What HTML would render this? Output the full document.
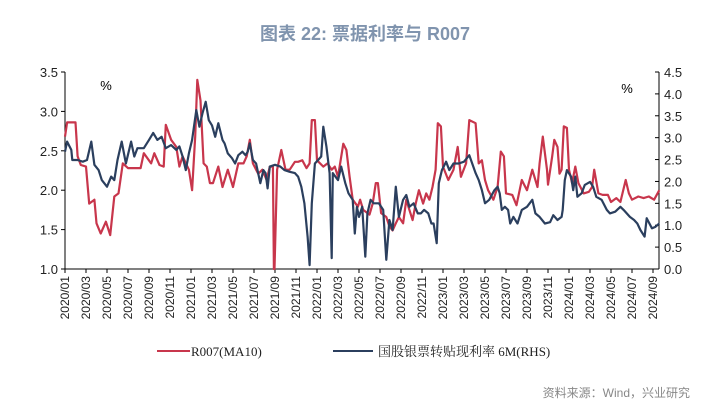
<!DOCTYPE html>
<html><head><meta charset="utf-8"><style>
body{margin:0;background:#fff;}
svg text{font-family:"Liberation Sans","Noto Sans CJK SC",sans-serif;}
svg text.serif{font-family:"Liberation Serif","Noto Serif CJK SC",serif;}
</style></head><body>
<svg width="723" height="412" viewBox="0 0 723 412" xmlns="http://www.w3.org/2000/svg">
<text x="365" y="40" text-anchor="middle" font-size="18" font-weight="bold" fill="#8094ae">图表 22: 票据利率与 R007</text>
<g id="axes"></g>
<g id="series"></g>
<text x="106" y="90" text-anchor="middle" font-size="13">%</text>
<text x="627" y="93" text-anchor="middle" font-size="13">%</text>
<line x1="157" y1="351" x2="190" y2="351" stroke="#c8364c" stroke-width="2"/>
<text class="serif" x="191" y="356" font-size="13" fill="#222">R007(MA10)</text>
<line x1="333" y1="351" x2="373" y2="351" stroke="#2b3f5e" stroke-width="2"/>
<text class="serif" x="378" y="356" font-size="13" fill="#222">国股银票转贴现利率 6M(RHS)</text>
<text x="690" y="397" text-anchor="end" font-size="12" fill="#888">资料来源：Wind，兴业研究</text>
</svg>
<script>
const xLabels=["2020/01","2020/03","2020/05","2020/07","2020/09","2020/11","2021/01","2021/03","2021/05","2021/07","2021/09","2021/11","2022/01","2022/03","2022/05","2022/07","2022/09","2022/11","2023/01","2023/03","2023/05","2023/07","2023/09","2023/11","2024/01","2024/03","2024/05","2024/07","2024/09"];
const leftTicks=[1.0,1.5,2.0,2.5,3.0,3.5];
const rightTicks=[0.0,0.5,1.0,1.5,2.0,2.5,3.0,3.5,4.0,4.5];
// month index since 2020/01
const r007T=[0,0.2,1.0,1.2,1.5,2.0,2.3,2.8,3.0,3.4,3.9,4.3,4.7,5.1,5.5,6.0,7.2,7.5,8.2,8.5,9.0,9.4,9.6,10.1,10.6,10.9,11.2,11.8,12.1,12.4,12.6,12.9,13.2,13.5,13.8,14.1,14.6,15.0,15.5,16.0,16.5,17.0,17.3,17.6,17.9,18.4,18.8,19.2,19.5,19.8,19.9,19.95,20.2,20.6,21.0,21.4,21.9,22.2,22.6,23.0,23.3,23.5,23.8,24.0,24.6,25.0,25.4,25.7,26.0,26.5,26.8,27.1,27.4,27.9,28.1,28.4,29.0,29.3,29.6,29.8,30.1,30.6,30.9,31.2,31.5,31.8,32.2,32.5,32.8,33.1,33.4,33.7,34.1,34.4,34.7,35.0,35.3,35.5,35.8,36.0,36.5,37.0,37.4,37.7,38.2,38.5,39.1,39.4,39.7,40.0,40.3,40.8,41.2,41.5,41.8,42.0,42.6,43.0,43.5,44.0,44.5,45.0,45.2,45.5,45.9,46.0,46.4,46.6,46.9,47.1,47.3,47.5,47.8,48.0,48.3,48.6,48.9,49.4,49.9,50.2,50.4,50.8,51.2,51.7,52.0,52.5,52.9,53.4,53.7,54.0,54.6,55.1,55.6,56.1,56.6];
const r007V=[2.68,2.86,2.86,2.43,2.32,2.30,1.83,1.88,1.58,1.45,1.60,1.43,1.92,1.96,2.34,2.28,2.28,2.47,2.34,2.47,2.32,2.30,2.83,2.64,2.55,2.30,2.43,2.26,2.00,2.68,3.40,3.14,2.34,2.30,2.09,2.09,2.30,2.04,2.26,2.04,2.34,2.34,2.43,2.64,2.34,2.21,2.26,2.13,2.30,2.30,1.0,1.0,2.26,2.51,2.26,2.26,2.36,2.36,2.38,2.28,2.34,2.89,2.89,2.38,2.30,2.34,2.26,2.30,2.17,2.59,2.51,2.17,1.88,1.79,1.88,1.75,1.69,1.83,2.09,2.09,1.71,1.66,1.54,1.49,1.58,1.66,1.58,1.88,1.75,1.62,1.83,2.00,1.83,1.96,1.88,2.04,2.26,2.85,2.81,2.30,2.13,2.26,2.55,2.17,2.34,2.89,2.85,2.34,2.38,2.13,2.00,1.88,2.04,2.49,2.43,1.96,1.94,1.81,2.13,2.00,2.26,2.04,2.34,2.68,2.26,2.07,2.43,2.64,2.55,2.21,2.26,2.81,2.79,2.26,2.09,2.30,2.09,1.96,1.98,2.04,2.26,1.96,1.94,1.94,1.85,1.90,1.85,2.13,1.96,1.88,1.92,1.90,1.92,1.88,2.00];
const billT=[0,0.2,0.6,0.7,1.2,1.7,2.1,2.5,2.8,3.2,3.5,4.0,4.4,4.7,5.0,5.4,5.8,6.3,6.6,6.9,7.5,8.0,8.4,8.8,9.2,9.6,10.1,10.6,10.9,11.2,11.5,11.8,12.1,12.5,12.8,13.1,13.4,13.7,14.0,14.3,14.6,15.0,15.2,15.5,15.9,16.2,16.5,16.9,17.2,17.4,17.6,17.9,18.2,18.6,18.9,19.1,19.3,19.5,20.0,20.5,20.9,21.4,21.9,22.2,22.5,22.8,23.1,23.3,23.5,23.8,24.1,24.4,24.6,24.9,25.2,25.4,25.5,26.0,26.3,26.7,27.0,27.4,27.6,27.8,28.0,28.3,28.6,28.8,29.1,29.4,29.9,30.3,30.6,30.9,31.2,31.5,31.8,32.2,32.5,32.8,33.2,33.6,33.9,34.2,34.6,34.9,35.1,35.4,35.6,35.9,36.3,36.6,37.0,37.5,38.0,38.5,39.1,39.4,39.7,40.0,40.4,40.9,41.2,41.4,41.6,41.9,42.2,42.4,42.7,43.1,43.5,44.0,44.5,44.8,45.2,45.7,46.2,46.5,46.9,47.3,47.4,47.6,47.8,48.2,48.4,48.6,48.8,49.2,49.5,50.0,50.3,50.6,51.1,51.6,51.9,52.4,52.9,53.2,53.8,54.2,54.5,54.8,55.2,55.4,55.9,56.2,56.6];
const billV=[2.68,2.91,2.72,2.49,2.49,2.45,2.49,2.91,2.38,2.26,2.03,1.88,2.11,2.03,2.49,2.91,2.41,2.91,2.57,2.76,2.76,2.95,3.11,2.95,3.02,2.76,2.83,2.72,2.80,2.57,2.26,2.64,2.95,3.63,3.25,3.56,3.82,3.40,3.28,3.02,3.33,2.95,2.87,2.64,2.53,2.41,2.60,2.68,2.60,2.68,2.87,2.49,2.41,1.96,2.26,2.19,1.84,2.34,2.38,2.34,2.26,2.22,2.19,2.11,1.88,1.50,0.74,0.09,1.50,2.41,2.49,2.57,3.25,2.80,2.19,0.25,2.19,2.03,2.34,1.96,1.73,1.58,0.81,1.42,1.19,1.42,0.28,1.27,1.58,1.50,1.50,1.35,0.21,1.12,0.89,1.88,1.19,1.58,1.69,1.42,1.50,1.27,1.27,1.35,1.27,1.04,1.04,0.59,1.96,2.26,2.45,2.26,2.41,2.41,2.45,2.60,2.19,2.03,1.80,1.50,1.58,1.80,1.88,1.73,1.35,1.42,1.35,1.04,1.19,1.04,1.35,1.42,1.58,1.27,1.19,1.04,1.07,1.23,1.12,1.19,1.35,2.03,2.26,2.11,1.80,2.11,1.65,1.73,1.92,1.99,1.88,1.65,1.58,1.35,1.27,1.31,1.42,1.35,1.19,1.12,1.04,0.89,0.74,1.16,0.93,0.96,1.04];

const NS="http://www.w3.org/2000/svg";
const X0=65,X1=659,YT=72,YB=269,MPX=10.5;
const xs=t=>X0+t*MPX;
const yL=v=>YB-(v-1)/2.5*(YB-YT);
const yR=v=>YB-v/4.5*(YB-YT);
function mk(tag,attrs,parent){const e=document.createElementNS(NS,tag);for(const k in attrs)e.setAttribute(k,attrs[k]);parent.appendChild(e);return e;}
const ax=document.getElementById('axes');
const sg=document.getElementById('series');
let e;
e=mk('line',{x1:X0,y1:YT,x2:X0,y2:YB,stroke:'#000','stroke-width':1},ax);


e=mk('line',{x1:X1,y1:YT,x2:X1,y2:YB,stroke:'#000','stroke-width':1},ax);


e=mk('line',{x1:X0,y1:YB,x2:X1,y2:YB,stroke:'#000','stroke-width':1},ax);


leftTicks.forEach(v=>{
  const y=yL(v);
  mk('line',{x1:X0-4,y1:y,x2:X0,y2:y,stroke:'#000'},ax);
  const t=mk('text',{x:X0-7,y:y+5,'text-anchor':'end','font-size':13,fill:'#222'},ax);
  t.textContent=v.toFixed(1);
  
  
});
rightTicks.forEach(v=>{
  const y=yR(v);
  mk('line',{x1:X1-4,y1:y,x2:X1,y2:y,stroke:'#000'},ax);
  const t=mk('text',{x:X1+5,y:y+5,'font-size':13,fill:'#222'},ax);
  t.textContent=v.toFixed(1);
  
  
});
xLabels.forEach((lab,i)=>{
  const x=xs(i*2);
  mk('line',{x1:x,y1:YB,x2:x,y2:YB+4,stroke:'#000'},ax);
  const t=mk('text',{x:0,y:0,'text-anchor':'end','font-size':12,fill:'#222',transform:`translate(${x+4},${YB+7}) rotate(-90)`},ax);
  t.textContent=lab;
  
  
});
const pR=r007T.map((t,i)=>xs(t).toFixed(1)+','+yL(r007V[i]).toFixed(1)).join(' ');
e=mk('polyline',{points:pR,fill:'none',stroke:'#c8364c','stroke-width':2.2,'stroke-linejoin':'round'},sg);


const pB=billT.map((t,i)=>xs(t).toFixed(1)+','+yR(billV[i]).toFixed(1)).join(' ');
e=mk('polyline',{points:pB,fill:'none',stroke:'#2b3f5e','stroke-width':2.2,'stroke-linejoin':'round'},sg);


</script>
</body></html>
